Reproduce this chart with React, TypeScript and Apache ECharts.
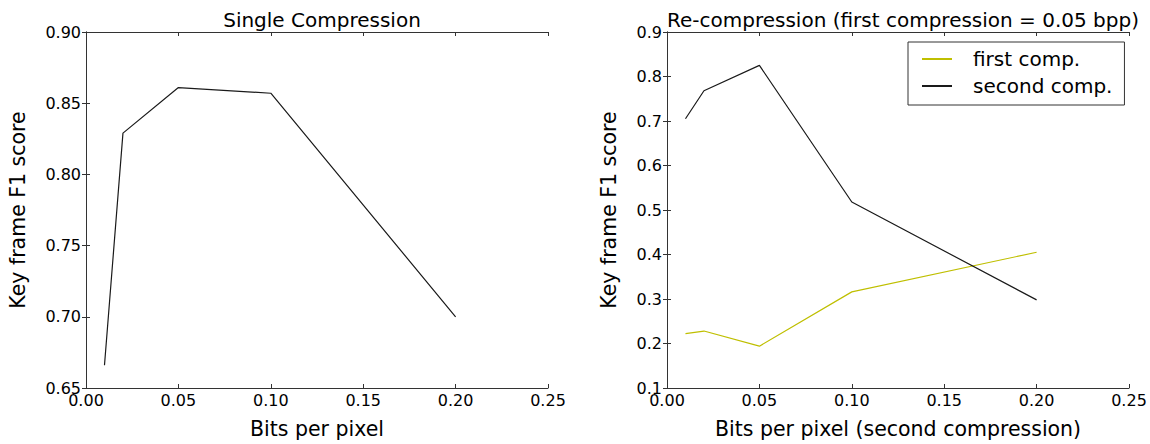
import React, { useEffect, useRef } from "react";
import * as echarts from "echarts";

const bppValues = [0.01, 0.02, 0.05, 0.1, 0.2];
const singleF1 = [0.666, 0.829, 0.861, 0.857, 0.7];
const firstCompF1 = [0.222, 0.228, 0.194, 0.316, 0.405];
const secondCompF1 = [0.705, 0.768, 0.825, 0.518, 0.298];

const leftTitle = "Single Compression";
const rightTitle = "Re-compression (first compression = 0.05 bpp)";
const leftXName = "Bits per pixel";
const rightXName = "Bits per pixel (second compression)";
const yName = "Key frame F1 score";
const legendNames = ["first comp.", "second comp."];

const FONT = "DejaVu Sans";
const AXIS_COLOR = "#333";
const YELLOW = "#bfbf00";
const BLACK = "#1a1a1a";

function pairs(xs: number[], ys: number[]) {
  return xs.map((x, i) => [x, ys[i]]);
}

export default function App() {
  const ref = useRef<HTMLDivElement>(null);

  useEffect(() => {
    if (!ref.current) return;
    const chart = echarts.init(ref.current, undefined, { renderer: "svg" });

    const tickLabel = (digits: number) => ({
      fontFamily: FONT,
      fontSize: 16,
      color: "#000",
      formatter: (v: number) => v.toFixed(digits),
    });

    const mainX = (gridIndex: number, name: string) => ({
      type: "value",
      gridIndex,
      min: 0,
      max: 0.25,
      interval: 0.05,
      name,
      nameLocation: "middle",
      nameGap: 30,
      nameTextStyle: { fontFamily: FONT, fontSize: 20.5, color: "#000" },
      axisLine: { show: true, lineStyle: { color: AXIS_COLOR, width: 1 } },
      axisTick: { show: true, inside: true, length: 4, lineStyle: { color: AXIS_COLOR } },
      axisLabel: { ...tickLabel(2), margin: 4 },
      splitLine: { show: false },
    });

    const topX = (gridIndex: number) => ({
      type: "value",
      gridIndex,
      position: "top",
      min: 0,
      max: 0.25,
      interval: 0.05,
      axisLine: { show: true, lineStyle: { color: AXIS_COLOR, width: 1 } },
      axisTick: { show: true, inside: true, length: 4, lineStyle: { color: AXIS_COLOR } },
      axisLabel: { show: false },
      splitLine: { show: false },
    });

    const mainY = (gridIndex: number, min: number, max: number, interval: number, digits: number, gap: number) => ({
      type: "value",
      gridIndex,
      min,
      max,
      interval,
      name: yName,
      nameLocation: "middle",
      nameGap: gap,
      nameTextStyle: { fontFamily: FONT, fontSize: 20.5, color: "#000" },
      axisLine: { show: true, lineStyle: { color: AXIS_COLOR, width: 1 } },
      axisTick: { show: true, inside: true, length: 4, lineStyle: { color: AXIS_COLOR } },
      axisLabel: { ...tickLabel(digits), margin: 5 },
      splitLine: { show: false },
    });

    const rightY = (gridIndex: number, min: number, max: number, interval: number) => ({
      type: "value",
      gridIndex,
      position: "right",
      min,
      max,
      interval,
      axisLine: { show: true, lineStyle: { color: AXIS_COLOR, width: 1 } },
      axisTick: { show: true, inside: true, length: 4, lineStyle: { color: AXIS_COLOR } },
      axisLabel: { show: false },
      splitLine: { show: false },
    });

    chart.setOption({
      animation: false,
      backgroundColor: "#fff",
      textStyle: { fontFamily: FONT },
      title: [
        {
          text: leftTitle,
          left: 317,
          top: 5,
          textAlign: "center",
          textStyle: { fontFamily: FONT, fontSize: 20, fontWeight: "normal", color: "#000" },
        },
        {
          text: rightTitle,
          left: 898,
          top: 5,
          textAlign: "center",
          textStyle: { fontFamily: FONT, fontSize: 20, fontWeight: "normal", color: "#000" },
        },
      ],
      legend: {
        data: legendNames,
        orient: "vertical",
        left: 908,
        top: 42,
        width: 211,
        padding: [7, 12, 9, 14],
        itemGap: 7,
        itemWidth: 30,
        itemHeight: 2,
        icon: "rect",
        borderColor: "#333",
        borderWidth: 1,
        borderRadius: 0,
        backgroundColor: "#fff",
        textStyle: { fontFamily: FONT, fontSize: 20, color: "#000", padding: [0, 0, 0, 16] },
      },
      grid: [
        { left: 86, top: 32, width: 462, height: 357 },
        { left: 667, top: 32, width: 462, height: 357 },
      ],
      xAxis: [mainX(0, leftXName), topX(0), mainX(1, rightXName), topX(1)],
      yAxis: [
        mainY(0, 0.65, 0.9, 0.05, 2, 58),
        rightY(0, 0.65, 0.9, 0.05),
        mainY(1, 0.1, 0.9, 0.1, 1, 48),
        rightY(1, 0.1, 0.9, 0.1),
      ],
      series: [
        {
          name: "single",
          type: "line",
          xAxisIndex: 0,
          yAxisIndex: 0,
          data: pairs(bppValues, singleF1),
          showSymbol: false,
          lineStyle: { color: BLACK, width: 1.2 },
          itemStyle: { color: BLACK },
        },
        {
          name: legendNames[0],
          type: "line",
          xAxisIndex: 2,
          yAxisIndex: 2,
          data: pairs(bppValues, firstCompF1),
          showSymbol: false,
          lineStyle: { color: YELLOW, width: 1.2 },
          itemStyle: { color: YELLOW },
        },
        {
          name: legendNames[1],
          type: "line",
          xAxisIndex: 2,
          yAxisIndex: 2,
          data: pairs(bppValues, secondCompF1),
          showSymbol: false,
          lineStyle: { color: BLACK, width: 1.2 },
          itemStyle: { color: BLACK },
        },
      ],
    });

    return () => chart.dispose();
  }, []);

  return (
    <div
      ref={ref}
      style={{ position: "fixed", left: 0, top: 0, width: 1150, height: 444, background: "#fff" }}
    />
  );
}
